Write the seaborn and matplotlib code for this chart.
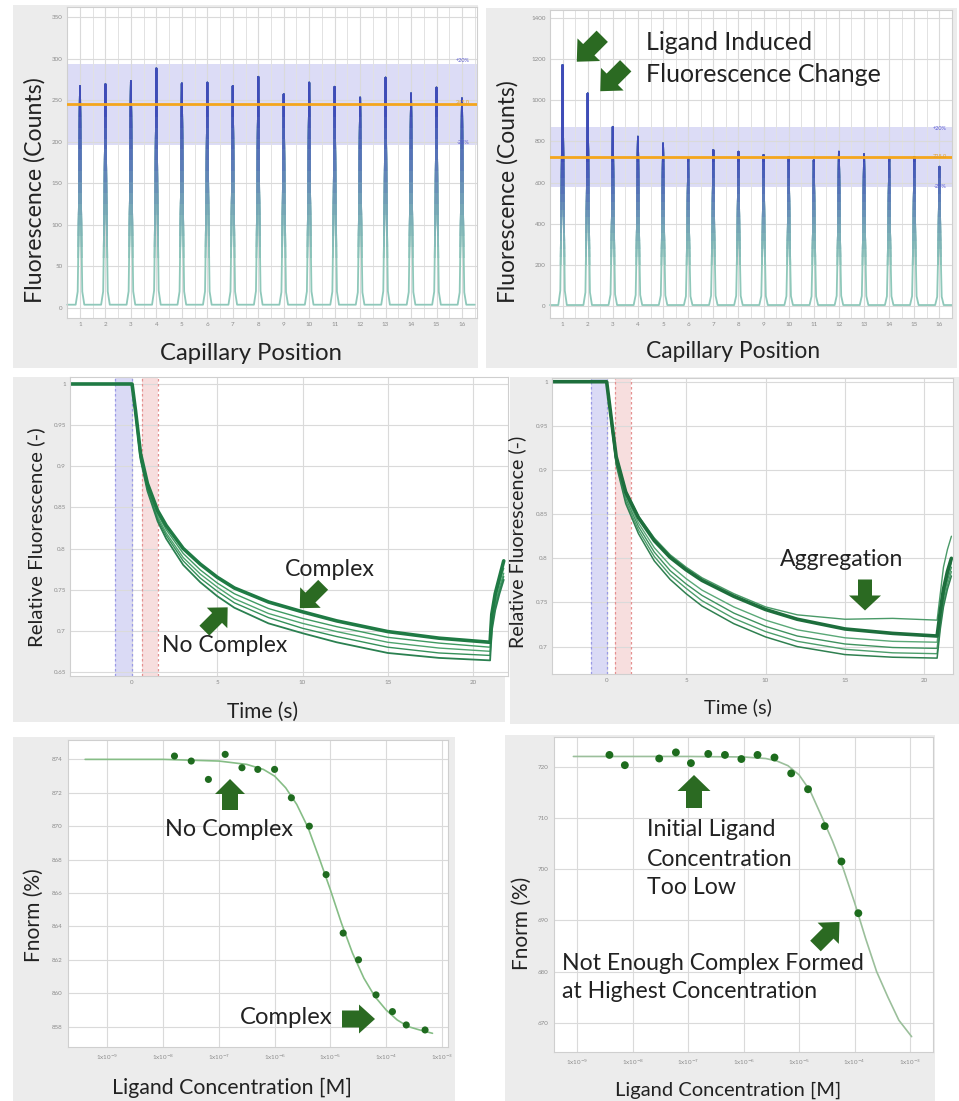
import numpy as np
import pandas as pd
import matplotlib
matplotlib.use("Agg")
import matplotlib.pyplot as plt
from matplotlib.patches import Rectangle, FancyArrow
from matplotlib.ticker import NullLocator
from matplotlib.colors import LinearSegmentedColormap
import seaborn as sns

sns.set_theme(style="whitegrid")
plt.rcParams["font.family"] = ["Lato", "DejaVu Sans"]

W, H = 959, 1101

# ---------------- data ----------------
capillary = list(range(1, 17))
tl_peaks = [267, 269, 273, 288, 270, 271, 267, 278, 257, 271, 266, 253, 277, 258, 265, 252]
tl_ref = 245
tl_baseline = 4
tr_peaks = [1171, 1033, 871, 823, 790, 717, 758, 750, 734, 725, 709, 750, 738, 717, 725, 677]
tr_ref = 725
tr_baseline = 5
band_pct = 20
tl_yticks = [0, 50, 100, 150, 200, 250, 300, 350]
tr_yticks = [0, 200, 400, 600, 800, 1000, 1200, 1400]

ml_time = [-3.6, 0.0, 0.2, 0.5, 0.9, 1.5, 2.0, 3.0, 4.0, 5.0, 6.0, 8.0, 10.0, 12.0, 15.0, 18.0, 21.0, 21.1, 21.3, 21.55, 21.8]
ml_c2 = [1, 1, 0.967, 0.913, 0.876, 0.842, 0.823, 0.794, 0.774, 0.758, 0.745, 0.727, 0.715, 0.705, 0.692, 0.685, 0.680, 0.712, 0.738, 0.758, 0.776]
ml_c3 = [1, 1, 0.966, 0.911, 0.874, 0.839, 0.819, 0.789, 0.769, 0.753, 0.739, 0.721, 0.709, 0.699, 0.686, 0.679, 0.675, 0.708, 0.733, 0.753, 0.770]
ml_c4 = [1, 1, 0.965, 0.910, 0.872, 0.836, 0.816, 0.785, 0.764, 0.748, 0.734, 0.716, 0.703, 0.693, 0.680, 0.673, 0.670, 0.704, 0.729, 0.749, 0.766]
ml_c5 = [1, 1, 0.964, 0.908, 0.870, 0.833, 0.812, 0.780, 0.759, 0.742, 0.728, 0.709, 0.697, 0.686, 0.673, 0.667, 0.664, 0.700, 0.725, 0.745, 0.762]
ml_thick = [1, 1, 0.968, 0.915, 0.879, 0.846, 0.828, 0.800, 0.781, 0.765, 0.752, 0.735, 0.723, 0.712, 0.699, 0.691, 0.686, 0.720, 0.745, 0.765, 0.785]
ml_yticks = [0.65, 0.7, 0.75, 0.8, 0.85, 0.9, 0.95, 1]
ml_ylabels = ["0.65", "0.7", "0.75", "0.8", "0.85", "0.9", "0.95", "1"]

mr_time = [-3.5, 0.0, 0.3, 0.6, 1.2, 2.0, 3.0, 4.0, 5.0, 6.0, 8.0, 10.0, 12.0, 15.0, 18.0, 20.8, 21.0, 21.2, 21.45, 21.7]
mr_agg = [1, 1, 0.958, 0.917, 0.877, 0.848, 0.823, 0.804, 0.790, 0.778, 0.760, 0.745, 0.736, 0.731, 0.732, 0.730, 0.760, 0.790, 0.810, 0.825]
mr_c3 = [1, 1, 0.955, 0.912, 0.871, 0.840, 0.812, 0.792, 0.777, 0.764, 0.745, 0.730, 0.719, 0.710, 0.706, 0.705, 0.735, 0.760, 0.780, 0.795]
mr_c4 = [1, 1, 0.954, 0.910, 0.868, 0.836, 0.807, 0.786, 0.771, 0.758, 0.738, 0.723, 0.712, 0.703, 0.699, 0.698, 0.730, 0.755, 0.775, 0.790]
mr_c5 = [1, 1, 0.953, 0.908, 0.865, 0.832, 0.802, 0.781, 0.766, 0.752, 0.732, 0.717, 0.706, 0.697, 0.693, 0.692, 0.725, 0.750, 0.770, 0.785]
mr_c6 = [1, 1, 0.952, 0.906, 0.862, 0.828, 0.797, 0.776, 0.760, 0.746, 0.726, 0.711, 0.700, 0.691, 0.688, 0.687, 0.720, 0.745, 0.765, 0.780]
mr_thick = [1, 1, 0.957, 0.915, 0.875, 0.846, 0.820, 0.801, 0.787, 0.775, 0.757, 0.742, 0.731, 0.720, 0.715, 0.712, 0.740, 0.765, 0.785, 0.800]
mr_yticks = [0.7, 0.75, 0.8, 0.85, 0.9, 0.95, 1]
mr_ylabels = ["0.7", "0.75", "0.8", "0.85", "0.9", "0.95", "1"]
time_ticks = [0, 5, 10, 15, 20]

bl_conc = [1.6e-8, 3.2e-8, 6.5e-8, 1.3e-7, 2.6e-7, 5.0e-7, 1.0e-6, 2.0e-6, 4.2e-6, 8.4e-6,
           1.7e-5, 3.2e-5, 6.6e-5, 1.3e-4, 2.3e-4, 5.0e-4]
bl_fnorm = [874.2, 873.9, 872.8, 874.3, 873.5, 873.4, 873.4, 871.7, 870.0, 867.1,
            863.6, 862.0, 859.9, 858.9, 858.1, 857.8]
bl_fit_conc = [4.0e-10, 1e-8, 1e-7, 3.16e-7, 6.3e-7, 1e-6, 1.58e-6, 2.5e-6, 4.0e-6, 6.3e-6,
               1e-5, 1.58e-5, 2.5e-5, 4.0e-5, 6.3e-5, 1e-4, 1.58e-4, 2.5e-4, 4.0e-4, 6.8e-4]
bl_fit_fnorm = [874.0, 874.0, 873.9, 873.7, 873.4, 873.0, 872.3, 871.3, 869.9, 868.1,
                866.2, 864.2, 862.4, 860.9, 859.8, 859.0, 858.4, 858.0, 857.8, 857.6]
bl_yticks = [858, 860, 862, 864, 866, 868, 870, 872, 874]

br_conc = [3.8e-9, 7.2e-9, 3.0e-8, 6.0e-8, 1.12e-7, 2.3e-7, 4.6e-7, 9.1e-7, 1.78e-6, 3.6e-6,
           7.2e-6, 1.45e-5, 2.9e-5, 5.8e-5, 1.17e-4]
br_fnorm = [722.3, 720.3, 721.6, 722.8, 720.7, 722.5, 722.3, 721.5, 722.3, 721.8,
            718.7, 715.6, 708.4, 701.5, 691.4]
br_fit_conc = [8.5e-10, 1e-7, 1e-6, 2.5e-6, 4.0e-6, 6.3e-6, 1e-5, 1.58e-5, 2.5e-5, 4.0e-5,
               6.3e-5, 1e-4, 1.58e-4, 2.5e-4, 4.0e-4, 6.3e-4, 1.07e-3]
br_fit_fnorm = [722.0, 722.0, 721.9, 721.6, 721.1, 720.2, 718.4, 715.3, 710.5, 705.5,
                700.0, 693.5, 686.5, 680.0, 675.0, 670.5, 667.3]
br_yticks = [670, 680, 690, 700, 710, 720]

conc_ticks = [1e-9, 1e-8, 1e-7, 1e-6, 1e-5, 1e-4, 1e-3]
conc_labels = ["1x10$^{-9}$", "1x10$^{-8}$", "1x10$^{-7}$", "1x10$^{-6}$",
               "1x10$^{-5}$", "1x10$^{-4}$", "1x10$^{-3}$"]

# ---------------- figure ----------------
fig = plt.figure(figsize=(W / 100, H / 100), dpi=100, facecolor="white")

bg = fig.add_axes([0, 0, 1, 1], zorder=-10)
bg.set_xlim(0, W); bg.set_ylim(H, 0); bg.axis("off")
for (x0, y0, x1, y1) in [(13, 5, 478, 368), (486, 8, 957, 368), (13, 377, 505, 722),
                         (510, 377, 959, 724), (13, 737, 455, 1101), (505, 735, 935, 1101)]:
    bg.add_patch(Rectangle((x0, y0), x1 - x0, y1 - y0, color="#ececec", lw=0))


def add_ax(x0, y0, x1, y1):
    ax = fig.add_axes([x0 / W, 1 - y1 / H, (x1 - x0) / W, (y1 - y0) / H])
    ax.set_facecolor("white")
    for s in ax.spines.values():
        s.set_color("#cfcfcf"); s.set_linewidth(0.8)
    ax.grid(True, color="#dadada", lw=0.8)
    ax.tick_params(labelsize=4.5, labelcolor="#8c8c8c", length=0, pad=3)
    ax.set_xlabel(""); ax.set_ylabel("")
    return ax


peak_dx = [-0.5, -0.17, -0.09, -0.035, 0.0, 0.035, 0.09, 0.17, 0.5]
peak_frac = [0, 0, 0.06, 0.5, 1, 0.5, 0.06, 0, 0]
peak_cmap = LinearSegmentedColormap.from_list("pk", ["#8fc8ba", "#78aab6", "#5a78b8", "#3f4cb8"])


def top_panel(ax, peaks, base, ref, ylim, xlim, yticks, grad):
    xs, ys = [], []
    for i, h in zip(capillary, peaks):
        for dx, fr in zip(peak_dx, peak_frac):
            xs.append(i + dx)
            ys.append(base + fr * (h - base))
    lo, hi = ref * (1 - band_pct / 100), ref * (1 + band_pct / 100)
    ax.axhspan(lo, hi, color="#dcdcf6", zorder=0.5, lw=0)
    nstep = 14
    g0, g1 = grad
    for k in range(nstep + 1):
        t0 = ylim[0] if k == 0 else g0 + (g1 - g0) * (k - 1) / (nstep - 1)
        line, = ax.plot(xs, ys, color=peak_cmap(k / nstep), lw=1.3, zorder=2)
        line.set_clip_path(Rectangle((0, t0), 20, ylim[1] - t0, transform=ax.transData))
    ax.axhline(ref, color="#f4a61c", lw=2, zorder=3)
    ax.set_xlim(*xlim); ax.set_ylim(*ylim)
    ax.set_xticks(capillary)
    ax.set_xticks(np.arange(0.5, 17, 1), minor=True)
    ax.grid(which="minor", axis="x", color="#e2e2e2", lw=0.7)
    ax.set_yticks(yticks)


ax_tl = add_ax(67, 7, 477, 318)
top_panel(ax_tl, tl_peaks, tl_baseline, tl_ref, (-12, 362), (0.49, 16.59), tl_yticks, (60, 230))
ax_tr = add_ax(550, 10, 952, 318)
top_panel(ax_tr, tr_peaks, tr_baseline, tr_ref, (-58, 1439), (0.52, 16.48), tr_yticks, (200, 700))


def mid_panel(ax, t, curves, pal, sizes, ylim, xlim, yticks, ylabels, red):
    rows = []
    for name, vals in curves.items():
        for ti, v in zip(t, vals):
            rows.append((name, ti, v))
    df = pd.DataFrame(rows, columns=["curve", "t", "f"])
    ax.axvspan(-1, 0, color="#dadaf5", lw=0, zorder=0.5)
    ax.axvspan(red[0], red[1], color="#f7dede", lw=0, zorder=0.5)
    for xv in (-1, 0):
        ax.axvline(xv, color="#9a9ae6", ls=(0, (2, 2)), lw=0.9, zorder=0.6)
    for xv in red:
        ax.axvline(xv, color="#e59090", ls=(0, (2, 2)), lw=0.9, zorder=0.6)
    sns.lineplot(data=df, x="t", y="f", hue="curve", size="curve", hue_order=list(curves),
                 palette=pal, sizes=sizes, estimator=None, sort=False, legend=False, ax=ax)
    ax.set_xlim(*xlim); ax.set_ylim(*ylim)
    ax.set_xticks(time_ticks)
    ax.set_yticks(yticks); ax.set_yticklabels(ylabels)
    ax.set_xlabel(""); ax.set_ylabel("")


ax_ml = add_ax(70, 377, 508, 676)
mid_panel(ax_ml, ml_time,
          {"c2": ml_c2, "c3": ml_c3, "c4": ml_c4, "c5": ml_c5, "thick": ml_thick},
          {"c2": "#3f9a62", "c3": "#4ea36e", "c4": "#35905a", "c5": "#2a8050", "thick": "#1f7a44"},
          {"c2": 1.0, "c3": 1.0, "c4": 1.0, "c5": 1.3, "thick": 2.6},
          (0.645, 1.0085), (-3.64, 22.05), ml_yticks, ml_ylabels, (0.6, 1.5))

ax_mr = add_ax(552, 378, 953, 674)
mid_panel(ax_mr, mr_time,
          {"agg": mr_agg, "c3": mr_c3, "c4": mr_c4, "c5": mr_c5, "c6": mr_c6, "thick": mr_thick},
          {"agg": "#4a9a68", "c3": "#5aa877", "c4": "#3f925f", "c5": "#4c9d6b", "c6": "#2f8050", "thick": "#1d6e3c"},
          {"agg": 1.0, "c3": 1.0, "c4": 1.0, "c5": 1.0, "c6": 1.1, "thick": 2.6},
          (0.669, 1.0042), (-3.44, 21.8), mr_yticks, mr_ylabels, (0.5, 1.55))


def bottom_panel(ax, conc, fnorm, fconc, ffit, xlim, ylim, yticks, dot, line, s):
    ax.set_xscale("log")
    sns.lineplot(x=fconc, y=ffit, color=line, lw=1.2, estimator=None, sort=False, ax=ax)
    sns.scatterplot(x=conc, y=fnorm, color=dot, s=s, edgecolor="none", zorder=3, ax=ax)
    ax.set_xlim(*xlim); ax.set_ylim(*ylim)
    ax.set_xticks(conc_ticks); ax.set_xticklabels(conc_labels)
    ax.xaxis.set_minor_locator(NullLocator())
    ax.set_yticks(yticks)
    ax.tick_params(labelsize=4.5, labelcolor="#8c8c8c", length=0, pad=4)


ax_bl = add_ax(68, 740, 448, 1047)
bottom_panel(ax_bl, bl_conc, bl_fnorm, bl_fit_conc, bl_fit_fnorm, (1.97e-10, 1.29e-3),
             (856.78, 875.16), bl_yticks, "#1f6b1f", "#86bd86", 26)
ax_br = add_ax(554, 737, 933, 1052)
bottom_panel(ax_br, br_conc, br_fnorm, br_fit_conc, br_fit_fnorm, (3.8e-10, 2.6e-3),
             (664.3, 725.8), br_yticks, "#1d6c1d", "#9bbf9b", 32)

# ---------------- overlay text / arrows ----------------
ov = fig.add_axes([0, 0, 1, 1], zorder=20)
ov.set_xlim(0, W); ov.set_ylim(H, 0); ov.axis("off")
renderer = fig.canvas.get_renderer()
TXT = "#222222"


def fit_fs(s, size_px, rotation=0):
    t = ov.text(0, 0, s, fontsize=20, rotation=rotation)
    bb = t.get_window_extent(renderer)
    ext = bb.height if rotation == 90 else bb.width
    t.remove()
    return 20 * size_px / ext


def label(x, y, s, size_px, rotation=0, ha="center", va="center", fs=None):
    if fs is None:
        fs = fit_fs(s, size_px, rotation)
    ov.text(x, y, s, fontsize=fs, rotation=rotation, ha=ha, va=va, color=TXT)
    return fs


# axis labels
label(251.5, 354, "Capillary Position", 183)
label(35, 190, "Fluorescence (Counts)", 226, rotation=90)
label(733, 351, "Capillary Position", 174)
label(508, 192, "Fluorescence (Counts)", 223, rotation=90)
label(263, 712, "Time (s)", 71)
label(36, 537, "Relative Fluorescence (-)", 220, rotation=90)
label(738, 707, "Time (s)", 68)
label(517, 542, "Relative Fluorescence (-)", 212, rotation=90)
label(232, 1088, "Ligand Concentration [M]", 239)
label(34, 915, "Fnorm (%)", 94, rotation=90)
label(728, 1090, "Ligand Concentration [M]", 227)
label(522, 923, "Fnorm (%)", 93, rotation=90)

# annotations
fs = fit_fs("Fluorescence Change", 236)
label(646, 43, "Ligand Induced", 0, ha="left", fs=fs)
label(646, 75, "Fluorescence Change", 0, ha="left", fs=fs)
label(330, 569, "Complex", 90)
label(224.5, 645, "No Complex", 125)
label(841.5, 559, "Aggregation", 123)
label(229, 829, "No Complex", 128)
label(286.5, 1018, "Complex", 93)
fs = fit_fs("Concentration", 146)
label(647, 829, "Initial Ligand", 0, ha="left", fs=fs)
label(647, 859, "Concentration", 0, ha="left", fs=fs)
label(647, 888, "Too Low", 0, ha="left", fs=fs)
fs = fit_fs("Not Enough Complex Formed", 301)
label(562, 963, "Not Enough Complex Formed", 0, ha="left", fs=fs)
label(562, 992, "at Highest Concentration", 0, ha="left", fs=fs)

# band labels
for x, y, s, c in [(463, 61, "+20%", "#5a5ad2"), (463, 143, "-20%", "#5a5ad2"), (463, 103, "245.0", "#e0a030"),
                   (940, 128, "+20%", "#5a5ad2"), (940, 187, "-20%", "#5a5ad2"), (940, 157, "725.0", "#e0a030")]:
    ov.text(x, y, s, fontsize=4, color=c, ha="center", va="center")

ARROW = "#2b6a22"


def arrow(cx, cy, ux, uy, L, w, hw, hl):
    n = np.hypot(ux, uy)
    ux, uy = ux / n, uy / n
    x0, y0 = cx - ux * L / 2, cy - uy * L / 2
    ov.add_patch(FancyArrow(x0, y0, ux * L, uy * L, width=w, head_width=hw, head_length=hl,
                            length_includes_head=True, color=ARROW, lw=0))


arrow(589.5, 49, -1, 1, 36, 16, 32, 17)
arrow(613, 78.5, -1, 1, 36, 16, 32, 17)
arrow(311.5, 596.5, -1, 1, 33, 14, 29, 15)
arrow(216, 619, 1, -1, 33, 14, 29, 15)
arrow(865, 595, 0, 1, 31, 14, 32, 15)
arrow(230, 794.5, 0, -1, 31, 16, 30, 15)
arrow(358.5, 1019, 1, 0, 33, 17, 29, 16)
arrow(694, 791.5, 0, -1, 33, 16, 33, 16)
arrow(827.5, 934, 1, -1, 34, 15, 30, 16)

fig.savefig("out.png", dpi=100, facecolor="white")
